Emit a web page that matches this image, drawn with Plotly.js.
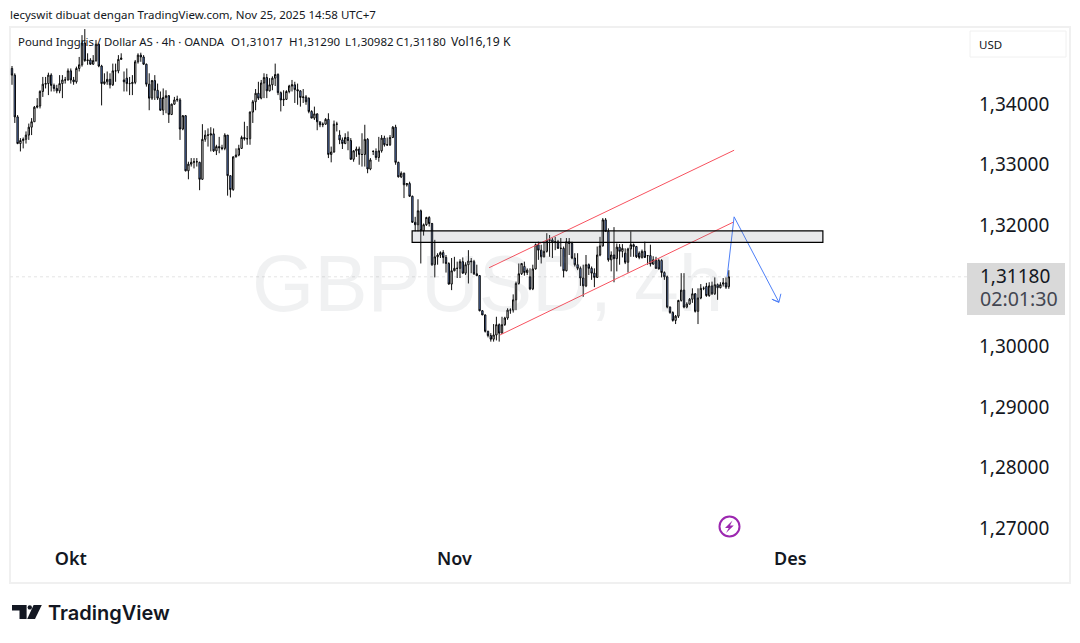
<!DOCTYPE html>
<html><head><meta charset="utf-8">
<script src="https://cdn.plot.ly/plotly-3.0.1.min.js"></script>
<style>html,body{margin:0;padding:0;background:#fff}#c{width:1080px;height:643px}</style>
</head><body><div id="c"></div>
<script>
const opens=[1.3462,1.3451,1.3382,1.3338,1.3343,1.3345,1.3352,1.3365,1.3374,1.3398,1.3400,1.3424,1.3436,1.3437,1.3451,1.3434,1.3429,1.3425,1.3437,1.3443,
1.3443,1.3458,1.3443,1.3440,1.3462,1.3468,1.3504,1.3475,1.3476,1.3469,1.3475,1.3502,1.3466,1.3437,1.3440,1.3444,1.3435,1.3458,1.3458,1.3477,
1.3443,1.3446,1.3437,1.3437,1.3439,1.3473,1.3484,1.3481,1.3469,1.3436,1.3413,1.3442,1.3426,1.3413,1.3393,1.3414,1.3417,1.3386,1.3403,1.3410,
1.3410,1.3362,1.3384,1.3293,1.3304,1.3307,1.3308,1.3307,1.3279,1.3345,1.3352,1.3352,1.3354,1.3326,1.3333,1.3331,1.3330,1.3352,1.3285,1.3262,
1.3316,1.3319,1.3330,1.3348,1.3346,1.3346,1.3390,1.3407,1.3421,1.3413,1.3438,1.3447,1.3425,1.3435,1.3446,1.3452,1.3422,1.3410,1.3411,1.3424,
1.3433,1.3435,1.3427,1.3425,1.3414,1.3415,1.3413,1.3391,1.3380,1.3387,1.3374,1.3369,1.3370,1.3378,1.3320,1.3324,1.3370,1.3352,1.3344,1.3338,
1.3348,1.3343,1.3312,1.3326,1.3329,1.3320,1.3320,1.3345,1.3296,1.3325,1.3325,1.3315,1.3326,1.3347,1.3336,1.3336,1.3348,1.3365,1.3307,1.3283,
1.3289,1.3270,1.3272,1.3251,1.3208,1.3204,1.3227,1.3194,1.3204,1.3216,1.3206,1.3138,1.3151,1.3154,1.3158,1.3150,1.3140,1.3106,1.3128,1.3132,
1.3132,1.3143,1.3124,1.3138,1.3144,1.3143,1.3123,1.3120,1.3062,1.3055,1.3028,1.3021,1.3015,1.3022,1.3039,1.3025,1.3039,1.3050,1.3063,1.3063,
1.3080,1.3107,1.3123,1.3135,1.3125,1.3118,1.3098,1.3131,1.3171,1.3162,1.3151,1.3160,1.3178,1.3179,1.3175,1.3176,1.3165,1.3165,1.3128,1.3176,
1.3173,1.3149,1.3138,1.3132,1.3116,1.3103,1.3138,1.3132,1.3124,1.3117,1.3154,1.3169,1.3212,1.3193,1.3146,1.3154,1.3148,1.3167,1.3160,1.3157,
1.3142,1.3164,1.3171,1.3168,1.3157,1.3150,1.3160,1.3153,1.3153,1.3139,1.3146,1.3145,1.3145,1.3125,1.3118,1.3068,1.3059,1.3046,1.3053,1.3079,
1.3096,1.3068,1.3073,1.3081,1.3090,1.3061,1.3083,1.3099,1.3102,1.3087,1.3103,1.3090,1.3105,1.3100,1.3106,1.3108,1.31017];
const closes=[1.3451,1.3382,1.3338,1.3343,1.3345,1.3352,1.3365,1.3374,1.3398,1.3400,1.3424,1.3436,1.3437,1.3451,1.3434,1.3429,1.3425,1.3437,1.3443,1.3443,
1.3458,1.3443,1.3440,1.3462,1.3468,1.3504,1.3475,1.3476,1.3469,1.3475,1.3502,1.3466,1.3437,1.3440,1.3444,1.3435,1.3458,1.3458,1.3477,1.3479,
1.3440,1.3437,1.3437,1.3439,1.3473,1.3484,1.3481,1.3469,1.3436,1.3413,1.3442,1.3426,1.3413,1.3393,1.3414,1.3417,1.3386,1.3403,1.3410,1.3411,
1.3362,1.3384,1.3293,1.3304,1.3307,1.3308,1.3308,1.3279,1.3345,1.3352,1.3352,1.3354,1.3326,1.3333,1.3331,1.3330,1.3352,1.3285,1.3262,1.3316,
1.3319,1.3330,1.3348,1.3346,1.3346,1.3390,1.3407,1.3421,1.3413,1.3438,1.3447,1.3425,1.3435,1.3446,1.3452,1.3422,1.3410,1.3411,1.3424,1.3433,
1.3435,1.3427,1.3425,1.3414,1.3415,1.3407,1.3391,1.3380,1.3387,1.3374,1.3369,1.3370,1.3378,1.3320,1.3324,1.3370,1.3370,1.3344,1.3338,1.3348,
1.3343,1.3312,1.3326,1.3329,1.3320,1.3320,1.3345,1.3296,1.3311,1.3325,1.3315,1.3326,1.3347,1.3336,1.3336,1.3348,1.3365,1.3307,1.3283,1.3289,
1.3270,1.3272,1.3251,1.3208,1.3204,1.3227,1.3194,1.3204,1.3216,1.3206,1.3138,1.3151,1.3154,1.3158,1.3150,1.3140,1.3106,1.3128,1.3132,1.3132,
1.3143,1.3124,1.3138,1.3144,1.3143,1.3123,1.3120,1.3062,1.3055,1.3028,1.3021,1.3015,1.3022,1.3039,1.3025,1.3039,1.3050,1.3063,1.3063,1.3080,
1.3107,1.3123,1.3140,1.3125,1.3129,1.3098,1.3131,1.3171,1.3162,1.3151,1.3160,1.3178,1.3179,1.3175,1.3176,1.3165,1.3165,1.3128,1.3176,1.3173,
1.3149,1.3138,1.3132,1.3116,1.3103,1.3138,1.3132,1.3124,1.3117,1.3154,1.3169,1.3212,1.3193,1.3146,1.3154,1.3148,1.3167,1.3160,1.3165,1.3142,
1.3164,1.3171,1.3168,1.3151,1.3150,1.3160,1.3150,1.3153,1.3139,1.3146,1.3132,1.3131,1.3125,1.3118,1.3068,1.3059,1.3046,1.3053,1.3079,1.3096,
1.3068,1.3073,1.3081,1.3090,1.3061,1.3083,1.3099,1.3099,1.3087,1.3103,1.3090,1.3105,1.3100,1.3105,1.3108,1.3101,1.31180];
const highs=[1.3466,1.3454,1.3385,1.3347,1.3348,1.3358,1.3371,1.3380,1.3400,1.3413,1.3426,1.3448,1.3448,1.3455,1.3454,1.3437,1.3435,1.3451,1.3451,1.3448,
1.3462,1.3462,1.3448,1.3465,1.3481,1.3517,1.3527,1.3487,1.3479,1.3484,1.3509,1.3503,1.3468,1.3454,1.3457,1.3454,1.3470,1.3470,1.3484,1.3487,
1.3457,1.3462,1.3448,1.3451,1.3476,1.3487,1.3488,1.3484,1.3470,1.3454,1.3443,1.3451,1.3437,1.3424,1.3429,1.3426,1.3418,1.3404,1.3415,1.3417,
1.3413,1.3385,1.3385,1.3308,1.3314,1.3314,1.3314,1.3308,1.3370,1.3360,1.3363,1.3365,1.3363,1.3336,1.3349,1.3336,1.3355,1.3352,1.3285,1.3317,
1.3330,1.3336,1.3351,1.3374,1.3367,1.3391,1.3410,1.3428,1.3440,1.3443,1.3454,1.3453,1.3446,1.3449,1.3470,1.3454,1.3424,1.3426,1.3426,1.3435,
1.3443,1.3440,1.3437,1.3426,1.3428,1.3418,1.3414,1.3393,1.3399,1.3388,1.3374,1.3373,1.3380,1.3388,1.3333,1.3376,1.3374,1.3360,1.3348,1.3355,
1.3358,1.3347,1.3327,1.3333,1.3333,1.3355,1.3369,1.3347,1.3314,1.3327,1.3330,1.3349,1.3352,1.3351,1.3348,1.3352,1.3367,1.3369,1.3308,1.3292,
1.3290,1.3272,1.3275,1.3252,1.3217,1.3246,1.3229,1.3206,1.3217,1.3218,1.3207,1.3179,1.3157,1.3160,1.3162,1.3154,1.3142,1.3149,1.3151,1.3143,
1.3147,1.3150,1.3142,1.3162,1.3149,1.3146,1.3138,1.3121,1.3063,1.3056,1.3029,1.3025,1.3040,1.3052,1.3041,1.3052,1.3052,1.3066,1.3066,1.3089,
1.3110,1.3140,1.3140,1.3143,1.3132,1.3132,1.3138,1.3173,1.3176,1.3171,1.3176,1.3190,1.3187,1.3182,1.3184,1.3179,1.3182,1.3168,1.3182,1.3182,
1.3176,1.3157,1.3157,1.3135,1.3138,1.3154,1.3140,1.3135,1.3132,1.3168,1.3184,1.3215,1.3215,1.3198,1.3160,1.3200,1.3173,1.3172,1.3172,1.3165,
1.3166,1.3193,1.3173,1.3169,1.3160,1.3163,1.3176,1.3154,1.3171,1.3152,1.3151,1.3148,1.3147,1.3127,1.3120,1.3069,1.3061,1.3055,1.3080,1.3124,
1.3124,1.3076,1.3083,1.3099,1.3091,1.3099,1.3106,1.3102,1.3108,1.3109,1.3110,1.3117,1.3107,1.3109,1.3116,1.3117,1.31290];
const lows=[1.3435,1.3372,1.3337,1.3325,1.3330,1.3338,1.3344,1.3352,1.3374,1.3396,1.3396,1.3415,1.3429,1.3418,1.3424,1.3424,1.3421,1.3421,1.3413,1.3437,
1.3442,1.3437,1.3435,1.3437,1.3457,1.3465,1.3473,1.3468,1.3468,1.3468,1.3473,1.3464,1.3401,1.3435,1.3435,1.3429,1.3433,1.3440,1.3454,1.3476,
1.3424,1.3424,1.3418,1.3418,1.3436,1.3470,1.3473,1.3468,1.3432,1.3393,1.3410,1.3410,1.3410,1.3392,1.3385,1.3388,1.3372,1.3385,1.3402,1.3407,
1.3344,1.3360,1.3292,1.3279,1.3300,1.3297,1.3300,1.3261,1.3278,1.3341,1.3333,1.3325,1.3324,1.3319,1.3322,1.3327,1.3327,1.3252,1.3249,1.3260,
1.3315,1.3317,1.3329,1.3343,1.3336,1.3336,1.3372,1.3393,1.3410,1.3411,1.3413,1.3413,1.3424,1.3426,1.3433,1.3418,1.3391,1.3400,1.3410,1.3421,
1.3424,1.3405,1.3402,1.3399,1.3405,1.3402,1.3388,1.3380,1.3377,1.3360,1.3365,1.3365,1.3369,1.3314,1.3307,1.3323,1.3358,1.3337,1.3329,1.3337,
1.3327,1.3311,1.3308,1.3316,1.3303,1.3300,1.3300,1.3289,1.3294,1.3319,1.3311,1.3308,1.3323,1.3333,1.3334,1.3334,1.3347,1.3303,1.3282,1.3281,
1.3248,1.3267,1.3250,1.3207,1.3193,1.3193,1.3140,1.3186,1.3202,1.3201,1.3136,1.3117,1.3138,1.3149,1.3140,1.3125,1.3105,1.3096,1.3127,1.3116,
1.3116,1.3123,1.3121,1.3107,1.3124,1.3121,1.3119,1.3061,1.3055,1.3026,1.3018,1.3011,1.3011,1.3013,1.3011,1.3024,1.3037,1.3047,1.3057,1.3059,
1.3063,1.3105,1.3121,1.3120,1.3121,1.3096,1.3096,1.3130,1.3146,1.3140,1.3150,1.3158,1.3151,1.3149,1.3162,1.3164,1.3135,1.3117,1.3127,1.3154,
1.3147,1.3135,1.3129,1.3103,1.3085,1.3101,1.3121,1.3113,1.3101,1.3116,1.3152,1.3168,1.3192,1.3143,1.3127,1.3109,1.3127,1.3138,1.3150,1.3139,
1.3125,1.3151,1.3151,1.3149,1.3147,1.3148,1.3149,1.3138,1.3135,1.3138,1.3131,1.3130,1.3117,1.3113,1.3066,1.3057,1.3044,1.3040,1.3050,1.3077,
1.3066,1.3066,1.3072,1.3075,1.3059,1.3040,1.3081,1.3096,1.3085,1.3085,1.3088,1.3088,1.3080,1.3099,1.3102,1.3098,1.30982];

const monthTicks=[21,158,278];
const monthLabels=['Okt','Nov','Des'];
const priceTicks=[1.27,1.28,1.29,1.30,1.32,1.33,1.34];
const zoneBars=[142.9,289.6], zonePrices=[1.3175,1.3194];
const channelLowBars=[174.3,257.5], channelLowPrices=[1.3022,1.3208];
const channelUpBars=[170.4,257.9], channelUpPrices=[1.3133,1.3327];
const forecastBars=[255.4,257.9,273.9,271.4,273.9,274.6], forecastPrices=[1.3118,1.3217,1.3076,1.3081,1.3076,1.3090];
const barIndex=opens.map((_,i)=>i);
const lastClose=closes[closes.length-1];

const W=1080,H=643,L=10,R=968,T=28,B=545;
const px=x=>(x-L)/(R-L), py=y=>(B-y)/(B-T);
const poly=pts=>pts.map((p,i)=>(i?'L':'M')+px(p[0]).toFixed(5)+','+py(p[1]).toFixed(5)).join(' ')+' Z';
const pbox=(x0,y0,x1,y1,o)=>Object.assign({type:'rect',xref:'paper',yref:'paper',x0:px(x0),x1:px(x1),y0:py(y0),y1:py(y1)},o);
const txt=(t,x,y,size,color,o)=>Object.assign({text:t,xref:'paper',yref:'paper',x:px(x),y:py(y),xanchor:'left',yanchor:'middle',showarrow:false,
  font:{family:'"Noto Sans",sans-serif',size:size,color:color},borderpad:0,borderwidth:0},o||{});

const shapes=[
 pbox(10,27,1070,583,{line:{color:'#f0f0f0',width:2},fillcolor:'rgba(0,0,0,0)',layer:'below'}),
 {type:'line',xref:'paper',yref:'y',x0:0,x1:1,y0:lastClose,y1:lastClose,line:{color:'#e4e4e4',width:1,dash:'dot'},layer:'below'},
 {type:'rect',xref:'x',yref:'y',x0:zoneBars[0],x1:zoneBars[1],y0:zonePrices[0],y1:zonePrices[1],fillcolor:'rgba(120,123,134,0.17)',line:{color:'#000',width:1.2},layer:'above'},
 pbox(970,31,1066,57,{line:{color:'#f0f0f0',width:1},fillcolor:'#fff'}),
 pbox(967,263,1065,315,{line:{width:0},fillcolor:'#d9d9d9'}),
 {type:'circle',xref:'paper',yref:'paper',x0:px(719.5),x1:px(739.5),y0:py(536.5),y1:py(516.5),line:{color:'#9c27b0',width:2},fillcolor:'#fff'},
 {type:'path',xref:'paper',yref:'paper',path:poly([[732.5,520.5],[725,528],[728.7,528],[726,533],[733.8,525.6],[730,525.6]]),fillcolor:'#9c27b0',line:{width:0}},
 {type:'path',xref:'paper',yref:'paper',path:poly([[12,605],[26.6,605],[26.6,619],[19.5,619],[19.5,610.5],[12,610.5]]),fillcolor:'#131722',line:{width:0}},
 {type:'circle',xref:'paper',yref:'paper',x0:px(27.6),x1:px(32),y0:py(609.6),y1:py(605.2),fillcolor:'#131722',line:{width:0}},
 {type:'path',xref:'paper',yref:'paper',path:poly([[33.6,605],[41.8,605],[35,619],[27.2,619]]),fillcolor:'#131722',line:{width:0}}
];
const annotations=[
 txt('GBPUSD, 4h',487,283,80,'rgba(120,123,134,0.11)',{xanchor:'center',font:{family:'"Liberation Sans",Arial,sans-serif',size:80,color:'rgba(120,123,134,0.11)'}}),
 txt('lecyswit dibuat dengan TradingView.com, Nov 25, 2025 14:58 UTC+7',10,14,11.5,'#131722'),
 txt('Pound Inggris / Dollar AS · 4h · OANDA',18,41,11.4,'#131722'),
 txt('O1,31017',231,41,11.5,'#131722'),
 txt('H1,31290',289,41,11.5,'#131722'),
 txt('L1,30982',345,41,11.5,'#131722'),
 txt('C1,31180',396,41,11.5,'#131722'),
 txt('Vol16,19 K',451,41,12.2,'#131722'),
 txt('USD',979,44,11.5,'#131722'),
 txt('<span style="font-size:19px">1,31180</span><br><span style="font-size:19.6px;fill:#434651">02:01:30</span>',980.5,287.5,18,'#131722',{align:'left'}),
 txt('TradingView',48,613,20,'#131722',{font:{family:'Inter,sans-serif',size:20,color:'#131722',weight:600}})
];

const traces=[
 {type:'candlestick',x:barIndex,open:opens,high:highs,low:lows,close:closes,width:1.08,whiskerwidth:0,
  increasing:{line:{color:'#000',width:0.95},fillcolor:'#ffffff'},
  decreasing:{line:{color:'#000',width:0.95},fillcolor:'#6f97ea'},hoverinfo:'skip',showlegend:false},
 {type:'scatter',mode:'lines',x:channelLowBars,y:channelLowPrices,line:{color:'#f7525f',width:1},hoverinfo:'skip',showlegend:false},
 {type:'scatter',mode:'lines',x:channelUpBars,y:channelUpPrices,line:{color:'#f7525f',width:1},hoverinfo:'skip',showlegend:false},
 {type:'scatter',mode:'lines',x:forecastBars,y:forecastPrices,line:{color:'#4d7ff7',width:1},hoverinfo:'skip',showlegend:false}
];
const layout={width:W,height:H,margin:{l:L,r:W-R,t:T,b:H-B,pad:0},paper_bgcolor:'#fff',plot_bgcolor:'#fff',separators:', ',showlegend:false,
 xaxis:{type:'linear',range:[(L-12)/2.8,(R-12)/2.8],tickmode:'array',tickvals:monthTicks,ticktext:monthLabels,showgrid:false,zeroline:false,showline:false,ticks:'',
  tickfont:{family:'"Noto Sans",sans-serif',size:18,color:'#131722',weight:600},ticklabelstandoff:1,rangeslider:{visible:false},fixedrange:true},
 yaxis:{side:'right',range:[1.267522,1.352878],tickmode:'array',tickvals:priceTicks,tickformat:'.5f',showgrid:false,zeroline:false,showline:false,ticks:'',
  tickfont:{family:'"Noto Sans",sans-serif',size:19,color:'#131722'},ticklabelstandoff:10,ticklabelshift:-2,fixedrange:true},
 shapes:shapes,annotations:annotations};
Plotly.newPlot('c',traces,layout,{displayModeBar:false,staticPlot:true});
</script></body></html>
